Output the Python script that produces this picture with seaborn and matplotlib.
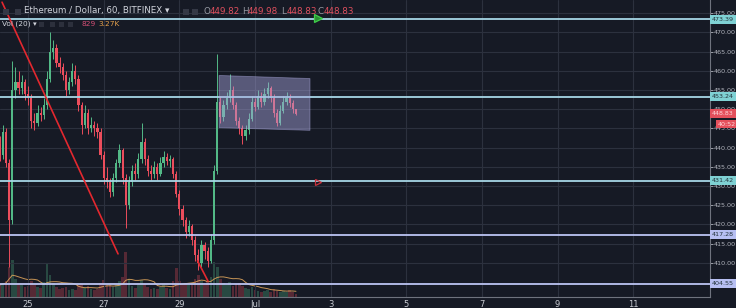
import numpy as np
import pandas as pd
import matplotlib
matplotlib.use("Agg")
import matplotlib.pyplot as plt
import matplotlib.transforms as mtransforms
from matplotlib.patches import Polygon, Rectangle
import seaborn as sns

# ---------------- data (2-hour candles, hours since 24 Jun 00:00) ----------------
hours = list(range(6, 195, 2))
first_open = 441.0
closes = [438, 444, 436, 421, 455, 457, 455.5, 457, 454, 453,
          447, 446.5, 449, 448.5, 451, 458, 465, 466, 462, 461,
          459, 455, 457, 460, 458, 451, 446, 449, 445, 446,
          445, 444, 438, 432, 431, 428.5, 432, 436, 439.5, 432,
          425, 431, 434, 433, 437, 441.5, 437, 434, 433, 435,
          433, 436, 437.5, 436.5, 437, 433, 428, 424, 421, 418,
          419.5, 416, 412, 410, 414.5, 413, 410.5, 416, 434, 452,
          448, 451, 453, 455, 451, 447, 445, 443, 444.5, 447.5,
          452, 450.5, 453.5, 452, 454, 455.5, 453, 449, 446.5, 449.5,
          452, 453, 451.5, 450, 448.83]
highs = [443, 446, 445, 437, 462.5, 461, 460, 459, 458, 456,
         454, 449, 451, 450.5, 453, 460, 470, 468, 467, 463.5,
         462, 460, 458.5, 462, 461.5, 459, 452, 451, 450, 448,
         447, 446.5, 445, 439, 435, 432, 433.5, 437, 441, 440,
         433, 432.5, 435.5, 436, 438.5, 446.5, 442.5, 438, 435.5, 436.5,
         436, 437.5, 439, 438.5, 438, 437.5, 434, 429, 425, 422,
         421, 420, 417, 413.5, 416, 415.5, 414, 417.5, 435.5, 464.5,
         453.5, 452.5, 454.5, 459.3, 456, 452, 448, 446, 446, 449,
         453.5, 453, 455, 454.5, 455.5, 457, 456, 454, 450, 451,
         453.5, 454.5, 454, 452.5, 450]
lows = [436.5, 437, 435, 409, 420, 453, 454, 454, 452.5, 451,
        445, 444.5, 445.5, 447, 447.5, 450, 457, 463, 461, 459.5,
        457.5, 453.5, 454, 456, 456.5, 449.5, 443.5, 445, 443.5, 444,
        443, 442.5, 437, 430.5, 429.5, 427, 427.5, 431, 435, 430.5,
        419, 424, 430, 431.5, 432, 436, 435.5, 432.5, 431.5, 432,
        431.5, 432.5, 435, 435.5, 435, 432, 427, 422.5, 419.5, 416.5,
        417, 414.5, 410.5, 408, 409, 411, 409, 410, 415, 433,
        446.5, 447, 450, 452, 450, 446, 443.5, 441, 442, 443.5,
        447, 449.5, 450, 450.5, 451, 453, 452, 448, 445.5, 446,
        449, 451, 450.5, 449, 448.5]
volumes = [12, 14, 16, 30, 37, 18, 14, 12, 10, 11,
           16, 12, 10, 9, 15, 34, 22, 14, 10, 8,
           9, 10, 7, 8, 7, 12, 13, 9, 11, 8,
           7, 8, 14, 17, 12, 13, 10, 12, 16, 20,
           45, 18, 11, 9, 12, 17, 13, 10, 8, 9,
           8, 10, 12, 9, 8, 16, 29, 16, 12, 14,
           12, 14, 18, 22, 16, 12, 16, 20, 35, 30,
           18, 14, 12, 15, 11, 13, 14, 11, 9, 8,
           10, 7, 6, 5, 6, 7, 5, 8, 6, 5,
           6, 5, 7, 5, 3]

level_prices = [473.39, 453.24, 431.42, 417.28, 404.55]
level_labels = ["473.39", "453.24", "431.42", "417.28", "404.55"]
price_ticks = [410, 415, 420, 425, 430, 435, 440, 445, 450, 455, 460, 465, 470, 475]
date_ticks = [24, 72, 120, 168, 216, 264, 312, 360, 408]
date_labels = ["25", "27", "29", "Jul", "3", "5", "7", "9", "11"]
last_price = 448.83
countdown_text = "40:52"
countdown_price = 446.15
trend_main = ([7.5, 81.1], [477.9, 412.3])
trend_low = ([131.5, 138.2], [410.5, 405.2])
box_corners = [(145.2, 458.8), (202.9, 458.0), (202.9, 444.5), (145.2, 445.2)]
flag_green = (208.0, 473.7)
flag_red = (208.0, 431.0)

# ---------------- style ----------------
BG = "#161a25"
GRID = "#2c313e"
UP = "#53b987"
DOWN = "#eb4d5c"
TXT = "#b2b5be"

sns.set_theme(style="dark", rc={"axes.facecolor": BG, "figure.facecolor": BG})
plt.rcParams["font.family"] = ["DejaVu Sans"]

fig = plt.figure(figsize=(7.36, 3.08), dpi=100)
fig.patch.set_facecolor(BG)
ax = fig.add_axes([0, 11 / 308, 710 / 736, 297 / 308])
ax2 = ax.twinx()
ax.set_zorder(2)
ax2.set_zorder(1)
ax.patch.set_visible(False)
ax2.patch.set_facecolor(BG)

t = np.array(hours, dtype=float)
c = np.array(closes, dtype=float)
o = np.array([first_open] + closes[:-1], dtype=float)
h = np.array(highs, dtype=float)
l = np.array(lows, dtype=float)
up = c >= o
cols = np.where(up, UP, DOWN)

# volume
vol = pd.Series(volumes, dtype=float)
ax2.bar(t, vol, width=1.7, color=cols, alpha=0.3, linewidth=0)
ma = vol.rolling(10, min_periods=1).mean()
sns.lineplot(x=t, y=ma.values, ax=ax2, color="#d9a15a", linewidth=0.7, alpha=0.9)
ax2.set_ylim(0, 297)
ax2.set_yticks([])
ax2.set_ylabel("")
ax2.tick_params(right=False, labelright=False)
for s in ax2.spines.values():
    s.set_visible(False)

# candles
ax.vlines(t, l, h, colors=cols, linewidth=0.7, zorder=3)
body = np.maximum(np.abs(c - o), 0.15)
ax.bar(t, body, bottom=np.minimum(o, c), width=1.4, color=cols, linewidth=0, zorder=3)

# rectangle drawing
ax.add_patch(Polygon(box_corners, closed=True, facecolor="#a9a6e0", edgecolor="#b4b2e8",
                     alpha=0.45, linewidth=0.6, zorder=5))

# trend lines
ax.plot(*trend_main, color="#e3282f", linewidth=1.2, zorder=5)
ax.plot(*trend_low, color="#e3282f", linewidth=1.2, zorder=5)

# horizontal levels
level_colors = ["#a7d7e6", "#a7d7e6", "#a7d7e6", "#bcc4f2", "#bcc4f2"]
box_colors = ["#7fd1d4", "#7fd1d4", "#7fd1d4", "#b7bff2", "#b7bff2"]
for p, lc in zip(level_prices, level_colors):
    ax.axhline(p, color=lc, linewidth=1.3, zorder=4)

# axes setup
ax.set_xlim(6.2, 456.7)
ax.set_ylim(401.06, 478.47)
ax.yaxis.tick_right()
ax.set_yticks(price_ticks)
ax.set_yticklabels([f"{v:.2f}" for v in price_ticks])
ax.set_xticks(date_ticks)
ax.set_xticklabels(date_labels)
ax.tick_params(axis="y", colors=TXT, labelsize=4.6, length=2.0, width=0.6, pad=1.0, direction="out")
ax.tick_params(axis="x", colors="#c8cbd2", labelsize=6.0, length=0, pad=2.5)
ax.tick_params(axis="y", labelcolor=TXT)
ax.grid(True, color=GRID, linewidth=0.8)
for side in ["top", "left"]:
    ax.spines[side].set_visible(False)
for side in ["right", "bottom"]:
    ax.spines[side].set_visible(True)
    ax.spines[side].set_color("#6f737e")
    ax.spines[side].set_linewidth(0.8)

# price label boxes on the right
tr = mtransforms.blended_transform_factory(ax.transAxes, ax.transData)
for p, lab, bc in zip(level_prices, level_labels, box_colors):
    ax.text(1.0030, p, lab, transform=tr, ha="left", va="center", fontsize=4.6, color="#24343c",
            bbox=dict(boxstyle="square,pad=0.3", fc=bc, ec="none"), clip_on=False, zorder=10)
ax.text(1.0030, last_price, f"{last_price:.2f}", transform=tr, ha="left", va="center", fontsize=4.6,
        color="#ffd6da", bbox=dict(boxstyle="square,pad=0.3", fc="#e4505c", ec="none"),
        clip_on=False, zorder=10)
ax.text(1.0105, countdown_price, countdown_text, transform=tr, ha="left", va="center", fontsize=4.6,
        color="#ffd6da", bbox=dict(boxstyle="square,pad=0.3", fc="#e4505c", ec="none"),
        clip_on=False, zorder=10)

# alert / flag markers
ax.plot([flag_green[0]], [flag_green[1]], marker=">", ms=5.5, color="#3fcf4a",
        markerfacecolor="#2a8f34", markeredgewidth=0.9, zorder=11)
ax.plot([flag_red[0]], [flag_red[1]], marker=">", ms=4.5, color="#c8323c",
        markerfacecolor="none", markeredgewidth=0.9, zorder=11)

# top-left legend
def ftext(x, y, s, **kw):
    fig.text(x / 736, 1 - y / 308, s, va="center", ha="left", **kw)

for x0 in (3, 15, 183, 192):
    fig.patches.append(Rectangle((x0 / 736, 1 - 15 / 308), 6 / 736, 6 / 308, transform=fig.transFigure,
                                 facecolor="#343845", edgecolor="none", zorder=20))
for x0 in (39, 50, 59, 68):
    fig.patches.append(Rectangle((x0 / 736, 1 - 27 / 308), 5 / 736, 5 / 308, transform=fig.transFigure,
                                 facecolor="#2c303c", edgecolor="none", zorder=20))
ftext(24, 11, "Ethereum / Dollar, 60, BITFINEX \u25be", fontsize=6.3, color="#d1d4dc", zorder=21)
ohlc = [("O", 204, "449.82"), ("H", 242, "449.98"), ("L", 281, "448.83"), ("C", 318, "448.83")]
for letter, xx, val in ohlc:
    ftext(xx, 11, letter, fontsize=6.3, color="#9598a1", zorder=21)
    ftext(xx + 5.5, 11, val, fontsize=6.3, color="#e0505e", zorder=21)
ftext(2, 24, "Vol (20) \u25be", fontsize=5.3, color="#d1d4dc", zorder=21)
ftext(82, 24, "829", fontsize=5.3, color="#d24f75", zorder=21)
ftext(98, 24, "3.27K", fontsize=5.3, color="#e3a04c", zorder=21)

fig.savefig("out.png", dpi=100, facecolor=BG)
